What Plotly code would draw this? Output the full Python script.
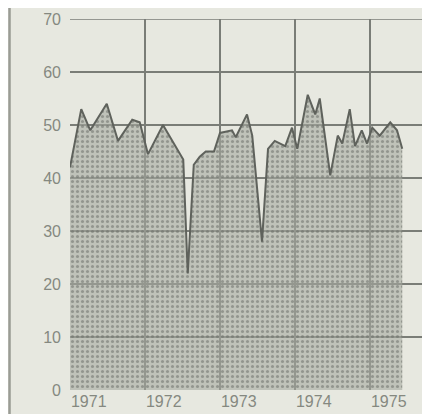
import plotly.graph_objects as go

# time in decimal years
t = [1971.00, 1971.15, 1971.27, 1971.49, 1971.64, 1971.83, 1971.93, 1972.04,
     1972.24, 1972.41, 1972.51, 1972.57, 1972.65, 1972.73, 1972.81, 1972.92,
     1973.00, 1973.16, 1973.21, 1973.36, 1973.43, 1973.56, 1973.64, 1973.73,
     1973.87, 1973.96, 1974.03, 1974.17, 1974.27, 1974.33, 1974.47, 1974.57,
     1974.63, 1974.73, 1974.80, 1974.89, 1974.96, 1975.03, 1975.13, 1975.27,
     1975.36, 1975.43]
values = [42, 53, 49, 54, 47, 51, 50.5, 44.5,
          50, 46, 43.5, 22, 42.5, 44, 45, 45,
          48.5, 49, 47.7, 52, 48, 28, 45.5, 47,
          46, 49.5, 45.5, 55.7, 52, 55, 40.5, 48,
          46.5, 53, 46, 49, 46.5, 49.5, 48, 50.5,
          49, 45.5]
years = [1971, 1972, 1973, 1974, 1975]
year_labels = ["1971", "1972", "1973", "1974", "1975"]
y_ticks = [0, 10, 20, 30, 40, 50, 60, 70]

fig = go.Figure()
fig.add_trace(go.Scatter(
    x=t, y=values, mode="lines", fill="tozeroy",
    line=dict(color="#5f625c", width=2),
    fillpattern=dict(shape=".", size=5, solidity=0.3,
                     fgcolor="#666963", bgcolor="rgba(165,168,158,0.6)"),
    hoverinfo="skip", showlegend=False,
))

grid = "#7a7d77"
fig.update_layout(
    width=422, height=406,
    margin=dict(l=62, r=0, t=11, b=24),
    paper_bgcolor="#e7e8e0", plot_bgcolor="#e7e8e0",
    font=dict(family="Liberation Sans, Arial, sans-serif", size=16, color="#858880"),
    xaxis=dict(
        range=[1971, 1975.8], tickvals=[y + 0.25 for y in years], ticktext=year_labels,
        showgrid=False, zeroline=False, ticks="", showline=False,
        minor=dict(tickvals=years, showgrid=True, gridcolor=grid, gridwidth=1.5, ticks=""),
    ),
    yaxis=dict(
        range=[0, 70], tickvals=y_ticks, showgrid=True, gridcolor=grid, gridwidth=1.5,
        zeroline=False, ticks="", ticklabelstandoff=8, showline=False,
    ),
    shapes=[
        dict(type="line", xref="paper", yref="paper", x0=-0.168, x1=-0.168, y0=-0.07, y1=1.04,
             line=dict(color="#9a9c95", width=2.5)),
        dict(type="line", xref="x", yref="y", x0=1971, x1=1975.8, y0=70, y1=70,
             line=dict(color=grid, width=1.5), layer="above"),
    ],
)

fig.write_html("out.html")
